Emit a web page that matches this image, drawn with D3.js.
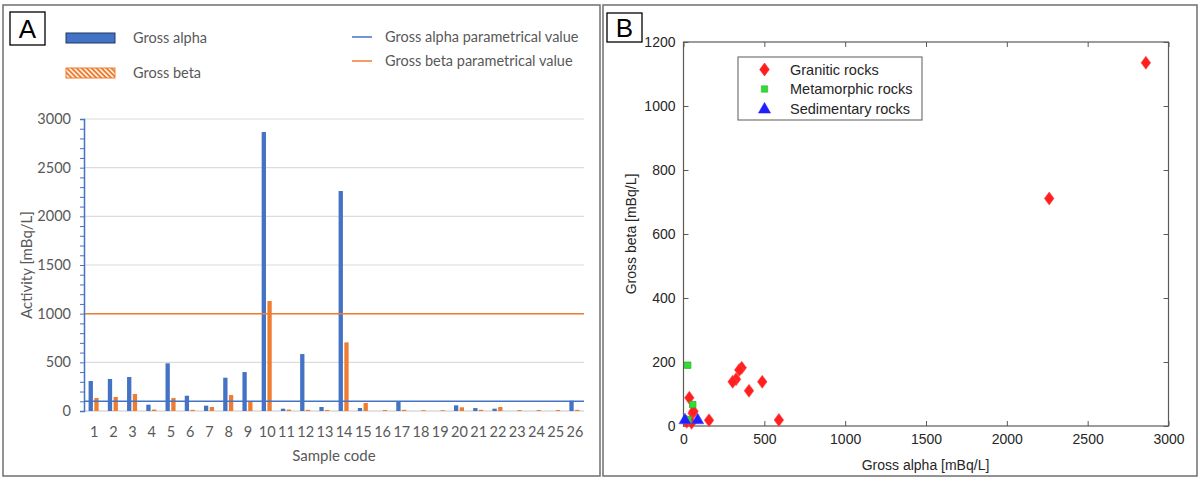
<!DOCTYPE html>
<html>
<head>
<meta charset="utf-8">
<script src="https://cdn.jsdelivr.net/npm/d3@7"></script>
<style>
  body { margin: 0; background: #fff; }
  svg { display: block; }
  .a-text { font-family: Lato, "Open Sans", sans-serif; fill: #595959; }
  .b-text { font-family: "Liberation Sans", Arial, sans-serif; fill: #262626; }
</style>
</head>
<body>
<svg id="chart" width="1199" height="479"></svg>
<script>
// --- data panel A ---
const sampleCodes = ["1","2","3","4","5","6","7","8","9","10","11","12","13","14","15","16","17","18","19","20","21","22","23","24","25","26"];
const grossAlpha = [308, 329, 349, 65, 490, 157, 55, 342, 400, 2866, 24, 585, 41, 2260, 31, 0, 103, 0, 0, 58, 30, 24, 0, 0, 0, 106];
const grossBeta  = [133, 144, 175, 15, 133, 12, 41, 164, 103, 1130, 15, 12, 10, 705, 82, 10, 12, 8, 8, 38, 12, 41, 10, 10, 10, 12];
const alphaLimit = 100;
const betaLimit = 1000;
const yTicksA = [0, 500, 1000, 1500, 2000, 2500, 3000];

// --- data panel B ---
const graniticRocks = [[2860, 1135], [2262, 711], [487, 138], [590, 19], [405, 110], [360, 182], [345, 175],
  [325, 146], [304, 138], [158, 18], [36, 88], [57, 40], [20, 13], [50, 10], [62, 46]];
const metamorphicRocks = [[26, 190], [57, 67], [28, 20]];
const sedimentaryRocks = [[9, 21], [88, 21]];
const xTicksB = [0, 500, 1000, 1500, 2000, 2500, 3000];
const yTicksB = [0, 200, 400, 600, 800, 1000, 1200];

const BLUE = "#4472C4", ORANGE = "#ED7D31";

const svg = d3.select("#chart");

// hatch for legend
const defs = svg.append("defs");
const pat = defs.append("pattern")
  .attr("id", "hatch").attr("patternUnits", "userSpaceOnUse")
  .attr("width", 3.5).attr("height", 3.5).attr("patternTransform", "rotate(-45)");
pat.append("rect").attr("width", 3.5).attr("height", 3.5).attr("fill", ORANGE);
pat.append("rect").attr("width", 1.5).attr("height", 3.5).attr("fill", "#fff");

// panel frames
svg.append("rect").attr("x", 3).attr("y", 5).attr("width", 597).attr("height", 471)
  .attr("fill", "none").attr("stroke", "#6f6f6f").attr("stroke-width", 1.5);
svg.append("rect").attr("x", 603).attr("y", 5).attr("width", 594).attr("height", 471)
  .attr("fill", "none").attr("stroke", "#6f6f6f").attr("stroke-width", 1.5);

function letterBox(x, y, w, h, t) {
  svg.append("rect").attr("x", x).attr("y", y).attr("width", w).attr("height", h)
    .attr("fill", "#fff").attr("stroke", "#000").attr("stroke-width", 1.3);
  svg.append("text").attr("x", x + w / 2).attr("y", y + h / 2 + 9)
    .attr("text-anchor", "middle").attr("font-family", "Liberation Sans, Arial, sans-serif")
    .attr("font-size", 26).text(t);
}
letterBox(10, 12, 35, 33, "A");
letterBox(607, 13, 35, 29, "B");

// ================= PANEL A =================
const gA = svg.append("g");
const xA = d3.scaleBand().domain(sampleCodes).range([84, 584]);
const xSub = d3.scaleBand().domain(["alpha", "beta"]).range([0, xA.bandwidth()])
  .paddingInner(0.25).paddingOuter(0.8);
const yA = d3.scaleLinear().domain([0, 3000]).range([411, 119]);

// gridlines
gA.append("g").selectAll("line").data(yTicksA).join("line")
  .attr("x1", 84).attr("x2", 584)
  .attr("y1", d => yA(d)).attr("y2", d => yA(d))
  .attr("stroke", d => d === 0 ? "#c8c8c8" : "#dcdcdc").attr("stroke-width", 1.2);

// bars
gA.append("g").selectAll("rect").data(grossAlpha).join("rect")
  .attr("x", (d, i) => xA(sampleCodes[i]) + xSub("alpha"))
  .attr("width", xSub.bandwidth())
  .attr("y", d => yA(d)).attr("height", d => yA(0) - yA(d))
  .attr("fill", BLUE);
gA.append("g").selectAll("rect").data(grossBeta).join("rect")
  .attr("x", (d, i) => xA(sampleCodes[i]) + xSub("beta"))
  .attr("width", xSub.bandwidth())
  .attr("y", d => yA(d)).attr("height", d => yA(0) - yA(d))
  .attr("fill", ORANGE);

// parametrical values
gA.append("line").attr("x1", 84).attr("x2", 584).attr("y1", yA(betaLimit)).attr("y2", yA(betaLimit))
  .attr("stroke", ORANGE).attr("stroke-width", 1.5);
gA.append("line").attr("x1", 84).attr("x2", 584).attr("y1", yA(alphaLimit)).attr("y2", yA(alphaLimit))
  .attr("stroke", BLUE).attr("stroke-width", 1.5);

// y axis
const yAxisA = gA.append("g").attr("transform", "translate(84,0)")
  .call(d3.axisLeft(yA).ticks(30).tickSize(4).tickFormat(""));
yAxisA.select(".domain").attr("stroke", BLUE).attr("stroke-width", 1.5);
yAxisA.selectAll(".tick line").attr("stroke", BLUE);
gA.append("g").selectAll("text").data(yTicksA).join("text")
  .attr("class", "a-text").attr("x", 71).attr("y", d => yA(d) + 5)
  .attr("text-anchor", "end").attr("font-size", 14.5).text(d => d);

// x labels
gA.append("g").selectAll("text").data(sampleCodes).join("text")
  .attr("class", "a-text").attr("x", d => xA(d) + xA.bandwidth() / 2 + 0.5).attr("y", 437)
  .attr("text-anchor", "middle").attr("font-size", 14.5).text(d => d);

gA.append("text").attr("class", "a-text").attr("x", 334).attr("y", 461)
  .attr("text-anchor", "middle").attr("font-size", 15).text("Sample code");
gA.append("text").attr("class", "a-text")
  .attr("transform", "translate(32,265) rotate(-90)")
  .attr("text-anchor", "middle").attr("font-size", 15).text("Activity [mBq/L]");

// legend A
gA.append("rect").attr("x", 66).attr("y", 33).attr("width", 49).attr("height", 10)
  .attr("fill", BLUE).attr("stroke", "#1f3864").attr("stroke-width", 1);
gA.append("text").attr("class", "a-text").attr("x", 133).attr("y", 43).attr("font-size", 14.5).text("Gross alpha");
gA.append("rect").attr("x", 66).attr("y", 68).attr("width", 49).attr("height", 10)
  .attr("fill", "url(#hatch)").attr("stroke", ORANGE).attr("stroke-width", 1);
gA.append("text").attr("class", "a-text").attr("x", 133).attr("y", 78).attr("font-size", 14.5).text("Gross beta");
gA.append("line").attr("x1", 352).attr("x2", 372).attr("y1", 37).attr("y2", 37).attr("stroke", BLUE).attr("stroke-width", 1.5);
gA.append("text").attr("class", "a-text").attr("x", 385).attr("y", 42).attr("font-size", 14.5).text("Gross alpha parametrical value");
gA.append("line").attr("x1", 352).attr("x2", 372).attr("y1", 61).attr("y2", 61).attr("stroke", ORANGE).attr("stroke-width", 1.5);
gA.append("text").attr("class", "a-text").attr("x", 385).attr("y", 66).attr("font-size", 14.5).text("Gross beta parametrical value");

// ================= PANEL B =================
const gB = svg.append("g");
const xB = d3.scaleLinear().domain([0, 3000]).range([683.5, 1168.5]);
const yB = d3.scaleLinear().domain([0, 1200]).range([426, 42]);

gB.append("rect").attr("x", 683.5).attr("y", 42).attr("width", 485).attr("height", 384)
  .attr("fill", "#fff").attr("stroke", "#5a5a5a").attr("stroke-width", 1.2);

const tickLen = 5;
const fmt = d3.format("d");
gB.append("g").attr("transform", "translate(0,426)")
  .call(d3.axisBottom(xB).tickValues(xTicksB).tickSize(-tickLen).tickPadding(8).tickFormat(fmt))
  .call(g => g.select(".domain").remove());
gB.append("g").attr("transform", "translate(0,42)")
  .call(d3.axisTop(xB).tickValues(xTicksB).tickSize(-tickLen).tickFormat(""))
  .call(g => g.select(".domain").remove());
gB.append("g").attr("transform", "translate(683.5,0)")
  .call(d3.axisLeft(yB).tickValues(yTicksB).tickSize(-tickLen).tickPadding(8).tickFormat(fmt))
  .call(g => g.select(".domain").remove());
gB.append("g").attr("transform", "translate(1168.5,0)")
  .call(d3.axisRight(yB).tickValues(yTicksB).tickSize(-tickLen).tickFormat(""))
  .call(g => g.select(".domain").remove());
gB.selectAll(".tick line").attr("stroke", "#5a5a5a");
gB.selectAll(".tick text").attr("class", "b-text").attr("font-size", 14).attr("fill", "#262626");

gB.append("text").attr("class", "b-text").attr("x", 925.5).attr("y", 470)
  .attr("text-anchor", "middle").attr("font-size", 14).text("Gross alpha [mBq/L]");
gB.append("text").attr("class", "b-text")
  .attr("transform", "translate(636,234) rotate(-90)")
  .attr("text-anchor", "middle").attr("font-size", 14).text("Gross beta [mBq/L]");

const diamond = "M0,-6.5L4.8,0L0,6.5L-4.8,0Z";
const square = "M-3.2,-3.2H3.2V3.2H-3.2Z";
const triangle = "M0,-6L6,4.5H-6Z";

gB.append("g").selectAll("path").data(graniticRocks).join("path")
  .attr("d", diamond).attr("transform", d => `translate(${xB(d[0])},${yB(d[1])})`)
  .attr("fill", "#ff1f1f").attr("stroke", "#ff4a4a").attr("stroke-width", 0.6);
gB.append("g").selectAll("path").data(metamorphicRocks).join("path")
  .attr("d", square).attr("transform", d => `translate(${xB(d[0])},${yB(d[1])})`)
  .attr("fill", "#2ee02e").attr("stroke", "#3aa83a").attr("stroke-width", 0.8);
gB.append("g").selectAll("path").data(sedimentaryRocks).join("path")
  .attr("d", triangle).attr("transform", d => `translate(${xB(d[0])},${yB(d[1])})`)
  .attr("fill", "#1f1fff").attr("stroke", "#4a4aff").attr("stroke-width", 0.6);

// legend B
const legB = gB.append("g");
legB.append("rect").attr("x", 738).attr("y", 57).attr("width", 184).attr("height", 63)
  .attr("fill", "#fff").attr("stroke", "#5a5a5a").attr("stroke-width", 1);
const legItems = [["Granitic rocks", diamond, "#ff1f1f"], ["Metamorphic rocks", square, "#2ee02e"], ["Sedimentary rocks", triangle, "#1f1fff"]];
legItems.forEach((it, i) => {
  const cy = 69.5 + i * 19.5;
  legB.append("path").attr("d", it[1]).attr("transform", `translate(764.5,${cy})`)
    .attr("fill", it[2]).attr("stroke", i === 1 ? "#3aa83a" : it[2]).attr("stroke-width", 0.6);
  legB.append("text").attr("class", "b-text").attr("x", 790).attr("y", cy + 5)
    .attr("font-size", 14.5).text(it[0]);
});
</script>
</body>
</html>
